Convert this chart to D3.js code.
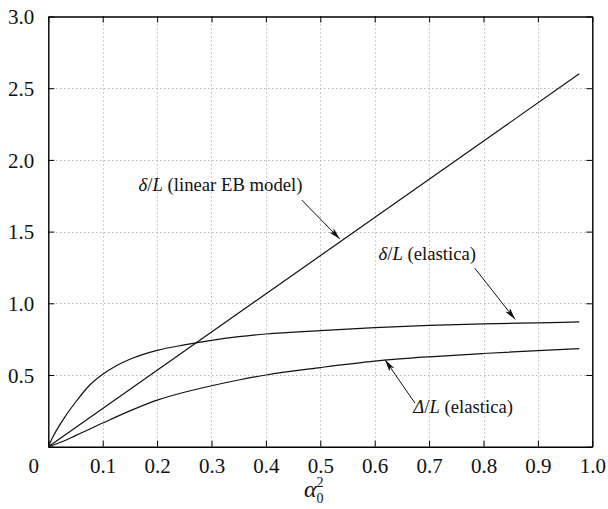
<!DOCTYPE html>
<html>
<head>
<meta charset="utf-8">
<script src="https://cdn.jsdelivr.net/npm/d3@7"></script>
<style>
  html, body { margin: 0; padding: 0; background: #fff; }
  svg { display: block; }
</style>
</head>
<body>
<svg id="chart" width="608" height="509"></svg>
<script>
// ---- data ----
const xTickValues = [0, 0.1, 0.2, 0.3, 0.4, 0.5, 0.6, 0.7, 0.8, 0.9, 1.0];
const xTickLabels = ["0", "0.1", "0.2", "0.3", "0.4", "0.5", "0.6", "0.7", "0.8", "0.9", "1.0"];
const yTickValues = [0, 0.5, 1.0, 1.5, 2.0, 2.5, 3.0];
const yTickLabels = ["", "0.5", "1.0", "1.5", "2.0", "2.5", "3.0"];

const linearAlpha = [0, 0.976];
const linearDelta = [0, 2.6];

const elasticaAlpha = [0, 0.01, 0.02, 0.03, 0.05, 0.075, 0.1, 0.125, 0.15, 0.2, 0.25, 0.3, 0.35, 0.4, 0.5, 0.6, 0.7, 0.8, 0.9, 0.976];
const elasticaDelta = [0, 0.08, 0.145, 0.205, 0.31, 0.425, 0.505, 0.565, 0.61, 0.672, 0.71, 0.742, 0.767, 0.786, 0.81, 0.83, 0.846, 0.857, 0.864, 0.87];

const shorteningAlpha = [0, 0.025, 0.05, 0.1, 0.15, 0.2, 0.25, 0.3, 0.35, 0.4, 0.5, 0.6, 0.7, 0.8, 0.9, 0.976];
const shorteningDelta = [0, 0.035, 0.077, 0.165, 0.25, 0.325, 0.38, 0.425, 0.465, 0.5, 0.552, 0.597, 0.627, 0.65, 0.67, 0.684];

const annotations = [
  { sym: "δ", rest: " (linear EB model)", tx: 0.166, ty: 1.78, tail: [0.466, 1.72], tip: [0.536, 1.448] },
  { sym: "δ", rest: " (elastica)", tx: 0.607, ty: 1.3, tail: [0.784, 1.245], tip: [0.858, 0.888] },
  { sym: "Δ", rest: " (elastica)", tx: 0.671, ty: 0.233, tail: [0.674, 0.304], tip: [0.619, 0.606] }
];

// ---- layout ----
const svg = d3.select("#chart");
const pLeft = 48.3, pRight = 592.3, pTop = 16.5, pBottom = 446.7;
const x = d3.scaleLinear().domain([0, 1]).range([pLeft, pRight]);
const y = d3.scaleLinear().domain([0, 3]).range([pBottom, pTop]);
const serif = "Liberation Serif";

svg.append("defs").append("marker")
  .attr("id", "arrow")
  .attr("viewBox", "0 0 12 6")
  .attr("refX", 12).attr("refY", 3)
  .attr("markerWidth", 12).attr("markerHeight", 6)
  .attr("markerUnits", "userSpaceOnUse")
  .attr("orient", "auto")
  .append("path")
  .attr("d", "M0,0 L12,3 L0,6 L3,3 Z")
  .attr("fill", "#111");

// grid
const grid = svg.append("g").attr("stroke", "#9a9a9a").attr("stroke-width", 1).attr("stroke-dasharray", "1,3");
grid.selectAll("line.gx").data(xTickValues.slice(1, -1)).join("line")
  .attr("class", "gx")
  .attr("x1", d => Math.round(x(d)) + 0.5).attr("x2", d => Math.round(x(d)) + 0.5)
  .attr("y1", pTop).attr("y2", pBottom);
grid.selectAll("line.gy").data(yTickValues.slice(1, -1)).join("line")
  .attr("class", "gy")
  .attr("y1", d => Math.round(y(d)) + 0.5).attr("y2", d => Math.round(y(d)) + 0.5)
  .attr("x1", pLeft).attr("x2", pRight);

const fontSize = 21;
const xAxisB = d3.axisBottom(x).tickValues(xTickValues).tickSizeInner(-6).tickSizeOuter(0).tickPadding(11)
  .tickFormat((d, i) => xTickLabels[i]);
const gB = svg.append("g").attr("transform", `translate(0,${pBottom})`).call(xAxisB);
const xAxisT = d3.axisTop(x).tickValues(xTickValues).tickSizeInner(-6).tickSizeOuter(0).tickFormat("");
const gT = svg.append("g").attr("transform", `translate(0,${pTop})`).call(xAxisT);
const yAxisL = d3.axisLeft(y).tickValues(yTickValues).tickSizeInner(-6).tickSizeOuter(0).tickPadding(14)
  .tickFormat((d, i) => yTickLabels[i]);
const gL = svg.append("g").attr("transform", `translate(${pLeft},0)`).call(yAxisL);
const yAxisR = d3.axisRight(y).tickValues(yTickValues).tickSizeInner(-6).tickSizeOuter(0).tickFormat("");
const gR = svg.append("g").attr("transform", `translate(${pRight},0)`).call(yAxisR);

[gB, gT, gL, gR].forEach(g => {
  g.attr("font-family", serif).attr("font-size", fontSize);
  g.select(".domain").attr("stroke", "#000").attr("stroke-width", 1.4);
  g.selectAll(".tick line").attr("stroke", "#000").attr("stroke-width", 1);
  g.selectAll(".tick text").attr("fill", "#111").attr("font-family", serif).attr("font-size", fontSize);
});
gB.selectAll(".tick text").attr("dy", "0.71em");
gB.selectAll(".tick").filter(d => d === 0).select("text").attr("dx", -15);
gL.selectAll(".tick text").attr("dy", "0.35em");

// curves
const line = d3.line().x(d => x(d[0])).y(d => y(d[1])).curve(d3.curveMonotoneX);
const curves = [
  d3.zip(linearAlpha, linearDelta),
  d3.zip(elasticaAlpha, elasticaDelta),
  d3.zip(shorteningAlpha, shorteningDelta)
];
svg.append("g").selectAll("path").data(curves).join("path")
  .attr("d", line).attr("fill", "none").attr("stroke", "#111").attr("stroke-width", 1.2);

// annotations
const ann = svg.append("g");
annotations.forEach(a => {
  ann.append("line")
    .attr("x1", x(a.tail[0])).attr("y1", y(a.tail[1]))
    .attr("x2", x(a.tip[0])).attr("y2", y(a.tip[1]))
    .attr("stroke", "#111").attr("stroke-width", 1)
    .attr("marker-end", "url(#arrow)");
  const t = ann.append("text").attr("x", x(a.tx)).attr("y", y(a.ty))
    .attr("font-family", serif).attr("font-size", 18.7).attr("fill", "#111");
  t.append("tspan").attr("font-style", "italic").text(a.sym);
  t.append("tspan").text("/");
  t.append("tspan").attr("font-style", "italic").text("L");
  t.append("tspan").text(a.rest);
});

// x-axis title: alpha_0^2
const xt = svg.append("text").attr("x", x(0.470)).attr("y", 497)
  .attr("font-family", serif).attr("font-size", 24).attr("fill", "#111");
xt.append("tspan").attr("font-style", "italic").text("α");
xt.append("tspan").attr("dy", -10).attr("font-size", 14).text("2");
xt.append("tspan").attr("dy", 16).attr("dx", -7).attr("font-size", 14).text("0");
</script>
</body>
</html>
